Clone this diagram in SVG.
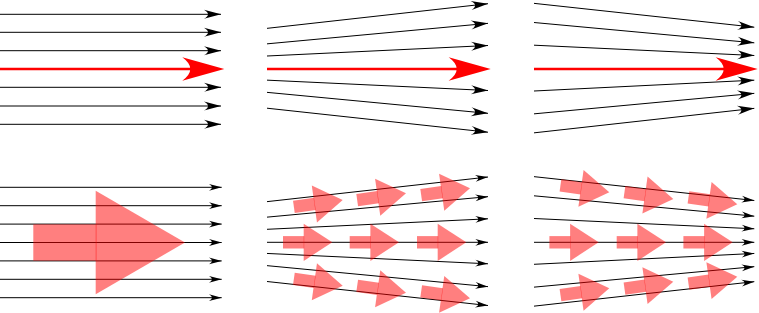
<svg xmlns="http://www.w3.org/2000/svg" width="759" height="313" viewBox="0 0 759 313">
<style>
.ln{stroke:#000;stroke-width:1;fill:none}
.lt{marker-end:url(#ah)}
.lb{marker-end:url(#ahs)}
.red{stroke:#f00;stroke-width:2.5;fill:none;marker-end:url(#rh)}
.fl{fill:#f00;fill-opacity:0.5}
</style>
<defs>
<marker id="ah" markerUnits="userSpaceOnUse" overflow="visible" orient="auto" markerWidth="20" markerHeight="20" refX="0" refY="0"><path d="M0,0 L-17,-4.5 Q-9,0 -17,4.5 Z" fill="#000"/></marker>
<marker id="ahs" markerUnits="userSpaceOnUse" overflow="visible" orient="auto" markerWidth="20" markerHeight="20" refX="0" refY="0"><path d="M0,0 L-12.7,-3.4 Q-6.7,0 -12.7,3.4 Z" fill="#000"/></marker>
<marker id="rh" markerUnits="userSpaceOnUse" overflow="visible" orient="auto" markerWidth="50" markerHeight="30" refX="0" refY="0"><path d="M30,0 L-12,-11.7 Q4,0 -12,11.7 Z" fill="#f00"/></marker>
<g id="sa"><rect class="fl" x="-49.3" y="-6.2" width="21.2" height="12.4"/><polygon class="fl" points="0,0 -28.6,-18.6 -28.6,18.6"/></g>
</defs>

<g id="connectors">
<g id="p1-top-lines">
<path class="ln lt" d="M0,14.3H221"/>
<path class="ln lt" d="M0,32.3H221"/>
<path class="ln lt" d="M0,50.7H221"/>
<path class="red" d="M0,69H194.3"/>
<path class="ln lt" d="M0,87.3H221"/>
<path class="ln lt" d="M0,106H221"/>
<path class="ln lt" d="M0,124.3H221"/>
</g>
<g id="p2-top-lines">
<path class="ln lt" d="M267,28.35L488,3.7"/>
<path class="ln lt" d="M267,43.85L488,23.35"/>
<path class="ln lt" d="M267,56L488,45.5"/>
<path class="red" d="M267,69H460.7"/>
<path class="ln lt" d="M267,80.15L488,90.5"/>
<path class="ln lt" d="M267,92.35L488,113.35"/>
<path class="ln lt" d="M267,108.2L488,132.2"/>
</g>
<g id="p3-top-lines">
<path class="ln lt" d="M534,3.35L754.3,27.2"/>
<path class="ln lt" d="M534,22.5L754.3,42.85"/>
<path class="ln lt" d="M534,45.2L754.3,55.5"/>
<path class="red" d="M534,69H727.7"/>
<path class="ln lt" d="M534,91L754.3,80.15"/>
<path class="ln lt" d="M534,113.85L754.3,93.35"/>
<path class="ln lt" d="M534,132.85L754.3,108.35"/>
</g>
<g id="p1-bottom-lines">
<path class="ln lb" d="M0,187.3H221.7"/>
<path class="ln lb" d="M0,205.7H221.7"/>
<path class="ln lb" d="M0,224.1H221.7"/>
<path class="ln lb" d="M0,242.5H221.7"/>
<path class="ln lb" d="M0,260.9H221.7"/>
<path class="ln lb" d="M0,279.3H221.7"/>
<path class="ln lb" d="M0,297.7H221.7"/>
</g>
<g id="p2-bottom-lines">
<path class="ln lb" d="M267,201.65L488,177"/>
<path class="ln lb" d="M267,217.15L488,196.65"/>
<path class="ln lb" d="M267,229.3L488,218.8"/>
<path class="ln lb" d="M267,242.3L488,242.3"/>
<path class="ln lb" d="M267,253.45L488,263.8"/>
<path class="ln lb" d="M267,265.65L488,286.65"/>
<path class="ln lb" d="M267,281.5L488,305.5"/>
</g>
<g id="p3-bottom-lines">
<path class="ln lb" d="M534,176.65L754.3,200.5"/>
<path class="ln lb" d="M534,195.8L754.3,216.15"/>
<path class="ln lb" d="M534,218.5L754.3,228.8"/>
<path class="ln lb" d="M534,242.3L754.3,242.3"/>
<path class="ln lb" d="M534,264.3L754.3,253.45"/>
<path class="ln lb" d="M534,287.15L754.3,266.65"/>
<path class="ln lb" d="M534,306.15L754.3,281.65"/>
</g>
</g>

<g id="big-arrow">
<rect class="fl" x="33.3" y="224.3" width="63.2" height="36.4"/>
<polygon class="fl" points="95.7,190.7 185,242.5 95.7,294.3"/>
</g>

<g id="p2-arrows">
<use href="#sa" transform="translate(342.7,200) rotate(-8)"/>
<use href="#sa" transform="translate(406,193.3) rotate(-8)"/>
<use href="#sa" transform="translate(470,188.3) rotate(-8)"/>
<use href="#sa" transform="translate(332.3,242.3)"/>
<use href="#sa" transform="translate(399,242.3)"/>
<use href="#sa" transform="translate(466.3,242.3)"/>
<use href="#sa" transform="translate(342.7,285.7) rotate(8)"/>
<use href="#sa" transform="translate(406,292.7) rotate(8)"/>
<use href="#sa" transform="translate(470,298.3) rotate(8)"/>
</g>

<g id="p3-arrows">
<use href="#sa" transform="translate(609.3,192.3) rotate(8)"/>
<use href="#sa" transform="translate(673.3,199) rotate(8)"/>
<use href="#sa" transform="translate(737.3,204.3) rotate(8)"/>
<use href="#sa" transform="translate(598.7,242.3)"/>
<use href="#sa" transform="translate(666,242.3)"/>
<use href="#sa" transform="translate(732.7,242.3)"/>
<use href="#sa" transform="translate(609.3,288.3) rotate(-8)"/>
<use href="#sa" transform="translate(673.3,281.7) rotate(-8)"/>
<use href="#sa" transform="translate(737.3,276.7) rotate(-8)"/>
</g>
</svg>
